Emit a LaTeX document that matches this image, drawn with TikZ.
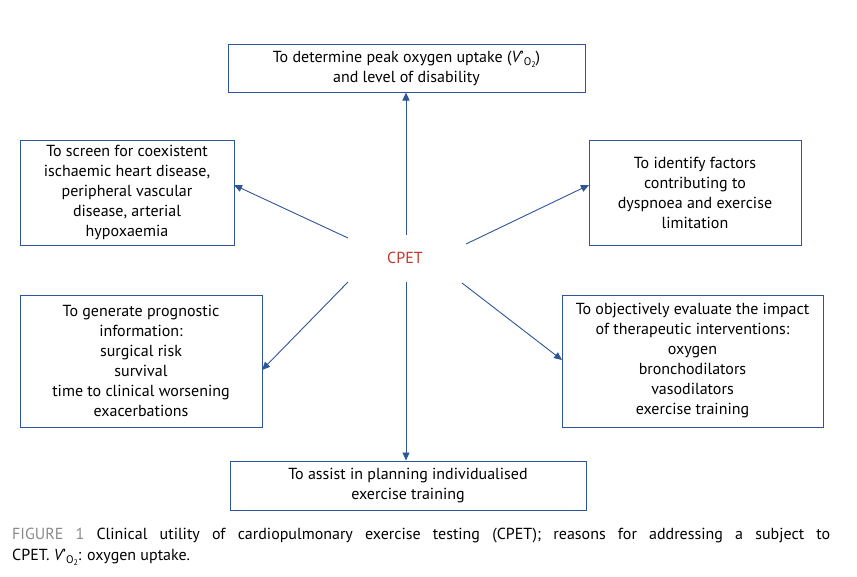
\documentclass[tikz,border=0pt]{standalone}
\usepackage{fontspec}
\setmainfont{PT Sans}
\usetikzlibrary{arrows.meta}
\definecolor{bl}{HTML}{2E5597}
\definecolor{cr}{HTML}{C0392B}
\definecolor{gr}{HTML}{8A8A8A}
\newcommand{\vox}{{\itshape V}\kern0.5pt'\raisebox{-3pt}{\fontsize{11}{11}\selectfont O\raisebox{-2pt}{\fontsize{8}{8}\selectfont 2}}}
\begin{document}
\begin{tikzpicture}[x=1pt,y=-1pt,
  box/.style={draw=bl,line width=1pt,align=center,font=\fontsize{16}{20}\selectfont,inner sep=0pt},
  arr/.style={draw=bl,line width=0.9pt,-{Triangle[length=8pt,width=7pt]}}]
\useasboundingbox (0,0) rectangle (857,576);
\node[box,minimum width=357pt,minimum height=48pt] (top) at (406.5,68) {To determine peak oxygen uptake (\vox)\\and level of disability};
\node[box,minimum width=214pt,minimum height=105pt] (l1) at (127,192.5) {To screen for coexistent\\ischaemic heart disease,\\peripheral vascular\\disease, arterial\\hypoxaemia};
\node[box,minimum width=212pt,minimum height=105pt] (r1) at (695,192.5) {To identify factors\\contributing to\\dyspnoea and exercise\\limitation};
\node[box,minimum width=242pt,minimum height=132pt] (l2) at (141,361) {To generate prognostic\\information:\\surgical risk\\survival\\time to clinical worsening\\exacerbations};
\node[box,minimum width=261pt,minimum height=132pt] (r2) at (692.5,361) {To objectively evaluate the impact\\of therapeutic interventions:\\oxygen\\bronchodilators\\vasodilators\\exercise training};
\node[box,minimum width=356pt,minimum height=49pt] (bot) at (408,485.5) {To assist in planning individualised\\exercise training};
\node[text=cr,font=\fontsize{16}{20}\selectfont] (c) at (405,258) {CPET};
\coordinate (s1) at (406,235); \coordinate (s2) at (348,238); \coordinate (s3) at (466,244);
\coordinate (s4) at (348,282); \coordinate (s5) at (462,283); \coordinate (s6) at (406,282);
\draw[arr] (s1) -- (top.south -| s1);
\draw[arr] (s2) -- (234,185);
\draw[arr] (s3) -- (589,185);
\draw[arr] (s4) -- (262,370);
\draw[arr] (s5) -- (562,360);
\draw[arr] (s6) -- (bot.north -| s6);
\node[anchor=north west,text width=818pt,align=justify,inner sep=0pt,font=\fontsize{16}{21}\selectfont] (cap) at (12,528) {{\color{gr}FIGURE 1} Clinical utility of cardiopulmonary exercise testing (CPET); reasons for addressing a subject to\linebreak CPET. \vox: oxygen uptake.};
\end{tikzpicture}
\end{document}
